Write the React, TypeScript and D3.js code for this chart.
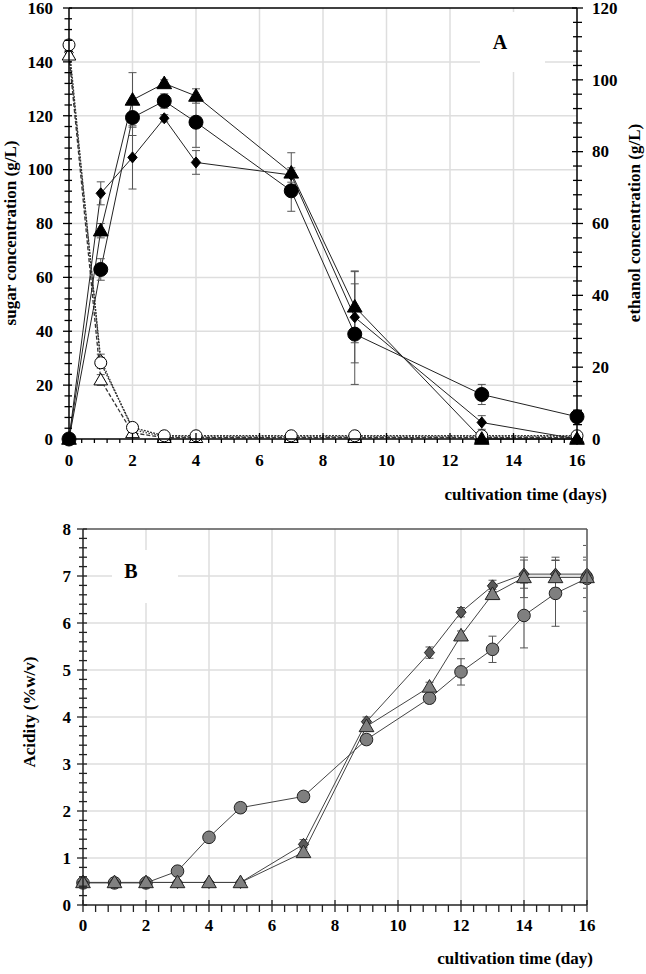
import React from "react";
import * as d3 from "d3";

// ---------- Panel A data ----------
const daysA = [0, 1, 2, 3, 4, 7, 9, 13, 16];
// ethanol (right axis, g/L), filled markers
const ethanolDiamond = [0, 68.4, 78.4, 89.3, 77.0, 73.5, 33.9, 4.6, 0];
const ethanolCircle = [0, 47.2, 89.5, 94.1, 88.2, 69.1, 29.2, 12.4, 6.2];
const ethanolTriangle = [0, 58.0, 94.4, 99.0, 95.5, 74.1, 36.8, 0, 0];
const ethanolDiamondErr = [0, 3.2, 8.8, 1, 3.3, 2, 12.7, 1.9, 0];
const ethanolCircleErr = [0, 3, 5, 2, 7, 5.7, 14, 2.8, 0.5];
const ethanolTriangleErr = [0, 2, 7.6, 1, 2, 5.6, 10, 1, 0];
// sugar (left axis, g/L), open markers
const sugarDiamond = [143.5, 29.5, 3.5, 0.8, 0.8, 0.8, 0.8, 0.8, 0.8];
const sugarCircle = [146.3, 28.3, 4.3, 1.2, 1.2, 1.2, 1.2, 1.2, 1.2];
const sugarTriangle = [142.5, 21.9, 2.3, 0.5, 0.5, 0.5, 0.5, 0.5, 0.5];
const sugarErr = [1, 2, 1, 0.3, 0.3, 0.3, 0.3, 0.3, 0.3];

const ticksAX = [0, 2, 4, 6, 8, 10, 12, 14, 16];
const ticksALeft = [0, 20, 40, 60, 80, 100, 120, 140, 160];
const ticksARight = [0, 20, 40, 60, 80, 100, 120];

// ---------- Panel B data ----------
const daysB = [0, 1, 2, 3, 4, 5, 7, 9, 11, 12, 13, 14, 15, 16];
const acidCircle = [0.47, 0.47, 0.47, 0.72, 1.44, 2.07, 2.31, 3.52, 4.4, 4.96, 5.44, 6.16, 6.63, 6.95];
const acidDiamond = [0.48, 0.48, 0.48, 0.48, 0.48, 0.48, 1.29, 3.9, 5.37, 6.23, 6.79, 7.04, 7.04, 7.04];
const acidTriangle = [0.48, 0.48, 0.48, 0.48, 0.48, 0.48, 1.12, 3.8, 4.64, 5.73, 6.61, 6.97, 6.97, 6.97];
const acidCircleErr = [0.02, 0.02, 0.02, 0.05, 0.05, 0.1, 0.1, 0.1, 0.1, 0.28, 0.28, 0.69, 0.7, 0.7];
const acidDiamondErr = [0, 0, 0, 0, 0, 0, 0.1, 0.1, 0.12, 0.1, 0.12, 0.3, 0.3, 0.3];
const acidTriangleErr = [0, 0, 0, 0, 0, 0, 0.1, 0.1, 0.1, 0.1, 0.1, 0.43, 0.43, 0.43];

const ticksBX = [0, 2, 4, 6, 8, 10, 12, 14, 16];
const ticksBY = [0, 1, 2, 3, 4, 5, 6, 7, 8];

const FONT = "'Liberation Serif', 'Times New Roman', serif";

type Shape = "circle" | "triangle" | "diamond";

function markerPath(shape: Shape, r: number): string {
  if (shape === "circle") {
    return `M${r},0A${r},${r} 0 1,1 ${-r},0A${r},${r} 0 1,1 ${r},0Z`;
  }
  if (shape === "triangle") {
    const w = r * 1.05;
    return `M0,${-r * 1.05}L${w},${r * 0.75}L${-w},${r * 0.75}Z`;
  }
  return `M0,${-r}L${r * 0.85},0L0,${r}L${-r * 0.85},0Z`;
}

function range(a: number, b: number, step: number): number[] {
  const out: number[] = [];
  for (let v = a; v <= b + 1e-9; v += step) out.push(+v.toFixed(4));
  return out;
}

export default function App() {
  // ---- Panel A scales ----
  const xA = d3.scaleLinear().domain([0, 16]).range([69, 577]);
  const yAL = d3.scaleLinear().domain([0, 160]).range([439, 8]);
  const yAR = d3.scaleLinear().domain([0, 120]).range([439, 8]);

  // ---- Panel B scales ----
  const xB = d3.scaleLinear().domain([0, 16]).range([83, 587]);
  const yB = d3.scaleLinear().domain([0, 8]).range([905, 529]);

  const lineGen = (xs: number[], ys: number[], xs_: any, ys_: any) =>
    d3.line<number>().x((_, i) => xs_(xs[i])).y((d) => ys_(d))(ys) || "";

  const seriesA = [
    { vals: sugarDiamond, err: sugarErr, shape: "diamond" as Shape, r: 5, y: yAL, fill: "#fff", dash: "1.5,1.5", open: true },
    { vals: sugarTriangle, err: sugarErr, shape: "triangle" as Shape, r: 6.5, y: yAL, fill: "#fff", dash: "4,2", open: true },
    { vals: sugarCircle, err: sugarErr, shape: "circle" as Shape, r: 6, y: yAL, fill: "#fff", dash: "2,1.2", open: true },
    { vals: ethanolDiamond, err: ethanolDiamondErr, shape: "diamond" as Shape, r: 5.5, y: yAR, fill: "#000", dash: "", open: false },
    { vals: ethanolCircle, err: ethanolCircleErr, shape: "circle" as Shape, r: 7, y: yAR, fill: "#000", dash: "", open: false },
    { vals: ethanolTriangle, err: ethanolTriangleErr, shape: "triangle" as Shape, r: 7, y: yAR, fill: "#000", dash: "", open: false },
  ];

  const seriesB = [
    { vals: acidCircle, err: acidCircleErr, shape: "circle" as Shape, r: 6.3, fill: "#7f7f7f" },
    { vals: acidDiamond, err: acidDiamondErr, shape: "diamond" as Shape, r: 6, fill: "#595959" },
    { vals: acidTriangle, err: acidTriangleErr, shape: "triangle" as Shape, r: 7, fill: "#808080" },
  ];

  const grid = "#dedede";
  const TICK = 17;
  const TITLE = 17;

  return (
    <svg
      width={646}
      height={974}
      style={{ position: "absolute", left: 0, top: 0, background: "#fff" }}
      fontFamily={FONT}
      fontWeight="bold"
    >
      <defs>
        <clipPath id="clipB">
          <rect x={xB(0)} y={yB(8)} width={xB(16) - xB(0) - 1} height={yB(0) - yB(8)} />
        </clipPath>
      </defs>
      <rect x={0} y={0} width={646} height={974} fill="#fff" />

      {/* ================= PANEL A ================= */}
      <g>
        {ticksAX.filter((t) => t > 0 && t < 16).map((t) => (
          <line key={"gax" + t} x1={xA(t)} x2={xA(t)} y1={yAL(160)} y2={yAL(0)} stroke={grid} strokeWidth={1.5} />
        ))}
        {ticksALeft.filter((t) => t > 0 && t < 160).map((t) => (
          <line key={"gay" + t} x1={xA(0)} x2={xA(16)} y1={yAL(t)} y2={yAL(t)} stroke={grid} strokeWidth={1.5} />
        ))}
        <rect x={480} y={12} width={65} height={60} fill="#fff" />
        <text x={500} y={49} fontSize={20} textAnchor="middle">A</text>

        {seriesA.map((s, i) => (
          <path
            key={"la" + i}
            d={lineGen(daysA, s.vals, xA, s.y)}
            fill="none"
            stroke={s.open ? "#333" : "#222"}
            strokeWidth={s.open ? 1.3 : 1}
            strokeDasharray={s.dash || undefined}
          />
        ))}
        {seriesA.map((s, i) => (
          <g key={"ea" + i} stroke="#555" strokeWidth={1}>
            {daysA.map((d, j) =>
              s.err[j] > 0.4 ? (
                <g key={j}>
                  <line x1={xA(d)} x2={xA(d)} y1={s.y(s.vals[j] - s.err[j])} y2={s.y(s.vals[j] + s.err[j])} />
                  <line x1={xA(d) - 4} x2={xA(d) + 4} y1={s.y(s.vals[j] - s.err[j])} y2={s.y(s.vals[j] - s.err[j])} />
                  <line x1={xA(d) - 4} x2={xA(d) + 4} y1={s.y(s.vals[j] + s.err[j])} y2={s.y(s.vals[j] + s.err[j])} />
                </g>
              ) : null
            )}
          </g>
        ))}
        {seriesA.map((s, i) => (
          <g key={"ma" + i}>
            {daysA.map((d, j) => (
              <path
                key={j}
                transform={`translate(${xA(d)},${s.y(s.vals[j])})`}
                d={markerPath(s.shape, s.r)}
                fill={s.fill}
                stroke="#000"
                strokeWidth={1}
              />
            ))}
          </g>
        ))}

        <line x1={xA(0)} x2={xA(16)} y1={yAL(160)} y2={yAL(160)} stroke="#000" strokeWidth={1.5} />
        <line x1={xA(0)} x2={xA(0)} y1={yAL(160)} y2={yAL(0)} stroke="#000" strokeWidth={1.5} />
        <line x1={xA(16)} x2={xA(16)} y1={yAL(160)} y2={yAL(0)} stroke="#000" strokeWidth={1.5} />
        <line x1={xA(0)} x2={xA(16)} y1={yAL(0)} y2={yAL(0)} stroke="#000" strokeWidth={1.5} />
        {range(0, 160, 4).map((t) => (
          <line key={"tl" + t} x1={xA(0) - (t % 20 === 0 ? 6 : 4.5)} x2={xA(0) + 3} y1={yAL(t)} y2={yAL(t)} stroke="#000" strokeWidth={1.3} />
        ))}
        {range(0, 120, 4).map((t) => (
          <line key={"tr" + t} x1={xA(16) - (t % 20 === 0 ? 5 : 4)} x2={xA(16) + (t % 20 === 0 ? 6 : 5)} y1={yAR(t)} y2={yAR(t)} stroke="#000" strokeWidth={1.3} />
        ))}
        {range(0, 16, 0.4).map((t) => {
          const major = Math.abs(t / 2 - Math.round(t / 2)) < 1e-6;
          return (
            <line key={"tb" + t} x1={xA(t)} x2={xA(t)} y1={yAL(0) - (major ? 6 : 0)} y2={yAL(0) + 4} stroke="#000" strokeWidth={1.3} />
          );
        })}
        {ticksALeft.map((t) => (
          <text key={"ll" + t} x={53} y={yAL(t)} dy="0.34em" fontSize={TICK} textAnchor="end">{t}</text>
        ))}
        {ticksARight.map((t) => (
          <text key={"rl" + t} x={592} y={yAR(t)} dy="0.34em" fontSize={TICK} textAnchor="start">{t}</text>
        ))}
        {ticksAX.map((t) => (
          <text key={"bl" + t} x={xA(t)} y={466} fontSize={TICK} textAnchor="middle">{t}</text>
        ))}
        <text transform="translate(16,233) rotate(-90)" fontSize={TITLE} textAnchor="middle">sugar concentration (g/L)</text>
        <text transform="translate(640,223) rotate(-90)" fontSize={TITLE} textAnchor="middle">ethanol concentration (g/L)</text>
        <text x={607} y={500} fontSize={TITLE} textAnchor="end">cultivation time (days)</text>
      </g>

      {/* ================= PANEL B ================= */}
      <g>
        {ticksBX.filter((t) => t > 0 && t < 16).map((t) => (
          <line key={"gbx" + t} x1={xB(t)} x2={xB(t)} y1={yB(8)} y2={yB(0)} stroke={grid} strokeWidth={1.5} />
        ))}
        {ticksBY.filter((t) => t > 0 && t < 8).map((t) => (
          <line key={"gby" + t} x1={xB(0)} x2={xB(16)} y1={yB(t)} y2={yB(t)} stroke={grid} strokeWidth={1.5} />
        ))}
        <rect x={112} y={550} width={66} height={53} fill="#fff" />
        <text x={131} y={578} fontSize={20} textAnchor="middle">B</text>

        {seriesB.map((s, i) => (
          <path key={"lb" + i} d={lineGen(daysB, s.vals, xB, yB)} fill="none" stroke="#444" strokeWidth={1} />
        ))}
        <g clipPath="url(#clipB)">
          {seriesB.map((s, i) => (
            <g key={"eb" + i} stroke="#555" strokeWidth={1}>
              {daysB.map((d, j) =>
                s.err[j] > 0.06 ? (
                  <g key={j}>
                    <line x1={xB(d)} x2={xB(d)} y1={yB(s.vals[j] - s.err[j])} y2={yB(s.vals[j] + s.err[j])} />
                    <line x1={xB(d) - 4} x2={xB(d) + 4} y1={yB(s.vals[j] - s.err[j])} y2={yB(s.vals[j] - s.err[j])} />
                    <line x1={xB(d) - 4} x2={xB(d) + 4} y1={yB(s.vals[j] + s.err[j])} y2={yB(s.vals[j] + s.err[j])} />
                  </g>
                ) : null
              )}
            </g>
          ))}
        </g>
        {seriesB.map((s, i) => (
          <g key={"mb" + i}>
            {daysB.map((d, j) => (
              <path
                key={j}
                transform={`translate(${xB(d)},${yB(s.vals[j])})`}
                d={markerPath(s.shape, s.r)}
                fill={s.fill}
                stroke="#222"
                strokeWidth={1}
              />
            ))}
          </g>
        ))}

        <line x1={xB(0)} x2={xB(16)} y1={yB(8)} y2={yB(8)} stroke="#555" strokeWidth={1.5} />
        <line x1={xB(16)} x2={xB(16)} y1={yB(8)} y2={yB(0)} stroke="#555" strokeWidth={1.5} />
        <line x1={xB(0)} x2={xB(0)} y1={yB(8)} y2={yB(0)} stroke="#222" strokeWidth={1.5} />
        <line x1={xB(0)} x2={xB(16)} y1={yB(0)} y2={yB(0)} stroke="#222" strokeWidth={1.5} />
        {range(0, 8, 0.2).map((t) => {
          const major = Math.abs(t - Math.round(t)) < 1e-6;
          return (
            <line key={"tby" + t} x1={xB(0) - (major ? 6 : 4)} x2={xB(0) + 4} y1={yB(t)} y2={yB(t)} stroke="#222" strokeWidth={1.3} />
          );
        })}
        {range(0, 16, 0.4).map((t) => {
          const major = Math.abs(t / 2 - Math.round(t / 2)) < 1e-6;
          return (
            <line key={"tbx" + t} x1={xB(t)} x2={xB(t)} y1={yB(0) - (major ? 5 : 0)} y2={yB(0) + 7} stroke="#222" strokeWidth={1.3} />
          );
        })}
        {ticksBY.map((t) => (
          <text key={"bly" + t} x={71} y={yB(t)} dy="0.34em" fontSize={TICK} textAnchor="end">{t}</text>
        ))}
        {ticksBX.map((t) => (
          <text key={"blx" + t} x={xB(t)} y={931} fontSize={TICK} textAnchor="middle">{t}</text>
        ))}
        <text transform="translate(35,712) rotate(-90)" fontSize={TITLE} textAnchor="middle">Acidity (%w/v)</text>
        <text x={593} y={964} fontSize={TITLE} textAnchor="end">cultivation time (day)</text>
      </g>
    </svg>
  );
}
